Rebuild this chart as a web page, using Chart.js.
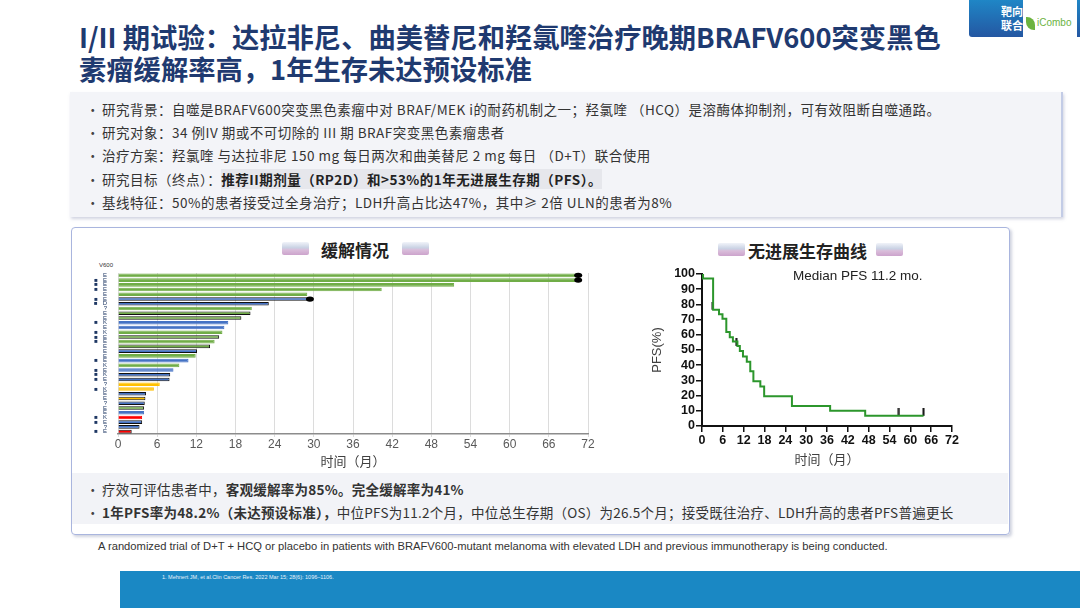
<!DOCTYPE html>
<html lang="zh">
<head>
<meta charset="utf-8">
<title>BRAFV600 黑色素瘤 I/II 期试验</title>
<script src="https://cdn.jsdelivr.net/npm/chart.js@4.4.0/dist/chart.umd.min.js"></script>
<style>
  body { margin: 0; width: 1080px; height: 608px; position: relative; overflow: hidden; background: #fff;
         font-family: "Noto Sans CJK SC", "Noto Sans", sans-serif; color: #333; }
  .abs { position: absolute; }
  .title { left: 79px; top: 20px; font-size: 27.3px; font-weight: bold; color: #1f3a70; line-height: 32px; white-space: nowrap; }
  .brand { left: 969px; top: 0; width: 111px; height: 37px; background: linear-gradient(#1f86c6, #2457a2); border-bottom-left-radius: 3px; }
  .brand span { position: absolute; left: 32px; color: #fff; font-size: 11px; font-weight: bold; line-height: 14px; top: 4px; }
  .logo { left: 1023px; top: 0; width: 54px; height: 37px; background: #fff; }
  .logo b { position: absolute; left: 14px; top: 17px; font: 10px "Liberation Sans", sans-serif; color: #6cb33f; }
  .logo i { position: absolute; left: 3px; top: 17px; width: 9px; height: 13px; background: #6cb33f; border-radius: 0 8px 0 8px; }
  .box { left: 70px; top: 92px; width: 991px; height: 125px; background: #f3f4f8; border-right: 2px solid #c3cce6; box-shadow: 1px 2px 3px rgba(120,130,170,.35); }
  .bul { font-size: 13.5px; line-height: 23.2px; color: #333; letter-spacing: 0.5px; white-space: nowrap; }
  .bul div::before { content: "•"; display: inline-block; width: 16px; color: #444; }
  .hl { background: #e6e7ec; font-weight: bold; color: #222; }
  .panel { left: 71px; top: 227px; width: 937px; height: 306px; border: 1px solid #a9b5de; border-radius: 4px; box-shadow: 2px 2px 3px rgba(100,110,150,.3); }
  .foot { left: 72px; top: 473px; width: 936px; height: 51px; background: #f2f3f7; }
  .head { font-size: 17px; font-weight: bold; color: #222; }
  .deco { width: 27px; height: 13px; border-radius: 2px;
          background: linear-gradient(#eef1f8 0%, #bfc9de 45%, #d3b2d4 60%, #c393c3 100%); opacity: .85; }
  .en { left: 98px; top: 540px; font: 11.2px "Liberation Sans", sans-serif; color: #333; white-space: nowrap; }
  .bar { left: 120px; top: 571px; width: 960px; height: 37px; background: #1a88c4; }
  .ref { left: 162px; top: 574px; font: 5.5px "Liberation Sans", sans-serif; color: #e8f2fa; }
</style>
</head>
<body>
<div class="abs brand"><span>靶向<br>联合</span></div>
<div class="abs logo"><i></i><b>iCombo</b></div>

<div class="abs title">I/II 期试验：达拉非尼、曲美替尼和羟氯喹治疗晚期BRAFV600突变黑色<br>素瘤缓解率高，1年生存未达预设标准</div>

<div class="abs box"></div>
<div class="abs bul" style="left:86px; top:98px;">
  <div>研究背景：自噬是BRAFV600突变黑色素瘤中对 BRAF/MEK i的耐药机制之一；羟氯喹 （HCQ）是溶酶体抑制剂，可有效阻断自噬通路。</div>
  <div>研究对象：34 例IV 期或不可切除的 III 期 BRAF突变黑色素瘤患者</div>
  <div>治疗方案：羟氯喹 与达拉非尼 150 mg 每日两次和曲美替尼 2 mg 每日 （D+T）联合使用</div>
  <div>研究目标（终点）：<span class="hl">推荐II期剂量（RP2D）和&gt;53%的1年无进展生存期（PFS）。</span></div>
  <div>基线特征：50%的患者接受过全身治疗；LDH升高占比达47%，其中≥ 2倍 ULN的患者为8%</div>
</div>

<div class="abs panel"></div>
<div class="abs deco" style="left:282px; top:242px;"></div>
<div class="abs head" style="left:321px; top:237px;">缓解情况</div>
<div class="abs deco" style="left:402px; top:242px;"></div>
<div class="abs deco" style="left:718px; top:243px;"></div>
<div class="abs head" style="left:748px; top:238px;">无进展生存曲线</div>
<div class="abs deco" style="left:876px; top:243px;"></div>

<div class="abs" style="left:99px; top:262px; font:6px 'Liberation Sans', sans-serif; color:#333;">V600</div>
<div class="abs" style="left:80px; top:262px;"><canvas id="swimmer" width="520" height="210"></canvas></div>
<div class="abs" style="left:650px; top:262px;"><canvas id="pfs" width="310" height="210"></canvas></div>
<div class="abs" style="left:793px; top:268px; font:13.5px 'Liberation Sans', sans-serif; color:#222;">Median PFS 11.2 mo.</div>

<div class="abs foot"></div>
<div class="abs bul" style="left:86px; top:478px; letter-spacing:0.25px;">
  <div>疗效可评估患者中，<b>客观缓解率为85%。完全缓解率为41%</b></div>
  <div><b>1年PFS率为48.2%（未达预设标准），</b>中位PFS为11.2个月，中位总生存期（OS）为26.5个月；接受既往治疗、LDH升高的患者PFS普遍更长</div>
</div>

<div class="abs en">A randomized trial of D+T + HCQ or placebo in patients with BRAFV600-mutant melanoma with elevated LDH and previous immunotherapy is being conducted.</div>
<div class="abs bar"></div>
<div class="abs ref">1.  Mehnert JM, et al.Clin Cancer Res. 2022 Mar 15; 28(6): 1096–1106.</div>

<script>
// Swimmer plot: months on treatment per patient, top to bottom
const durations = [70.5, 70.5, 51.5, 40.4, 29.0, 29.4, 23.1, 20.5, 20.3, 18.9, 16.9, 16.3, 16.0, 15.5, 14.8, 14.1, 12.1,
                   11.9, 10.8, 9.4, 8.5, 8.0, 7.9, 6.4, 5.5, 4.3, 4.2, 4.1, 4.0, 4.0, 3.7, 3.7, 3.3, 2.1];
// response group per patient: G green, B blue, Y yellow, R red
const response = ["G","G","G","G","G","B","B","G","G","G","B","B","G","G","G","G","B",
                  "G","B","G","B","B","B","Y","Y","B","Y","B","G","B","R","B","B","R"];
// outlined bars (black border)
const outlined = [0,0,0,0,0,1,1,0,1,1,0,0,0,1,0,1,1, 0,0,0,0,1,1,0,0,1,1,1,1,0,0,1,1,1];
// mutation code and prior-therapy flag shown at the left
const mutation = ["E","E","E","E","E","E","D","?","E","E","K","E","K","E","E","E","E",
                  "E","E","K","E","K","E","?","K","E","E","?","E","E","K","E","?","E"];
const priorTx = [0,1,1,1,0,1,1,0,0,0,1,0,1,1,1,0,0, 0,1,0,1,1,1,0,1,0,0,0,0,0,1,1,0,1];
// patients still on treatment at cutoff
const ongoing = [0, 1, 5];
const monthTicks = [0, 6, 12, 18, 24, 30, 36, 42, 48, 54, 60, 66, 72];

// PFS Kaplan-Meier curve
const kmTime = [0, 0.3, 3.2, 4.9, 5.9, 7.0, 8.0, 8.9, 10.2, 10.9, 11.8, 12.9, 13.9, 14.8, 16.8, 17.9, 25.9, 36.9, 47.0, 63.8];
const kmSurv = [100, 97.1, 76.5, 73.6, 70.6, 61.8, 58.4, 55.6, 52.7, 49.4, 45.7, 42.3, 36.0, 29.4, 26.0, 19.6, 13.1, 10.0, 6.7, 6.7];
const censorTime = [3.1, 9.9, 56.7, 63.8];
const censorSurv = [76.5, 52.7, 6.7, 6.7];

const palette = { G: "#70ad47", B: "#4472c4", Y: "#ffc000", R: "#ff0000" };

const ongoingMarks = {
  id: "ongoingMarks",
  afterDatasetsDraw(chart) {
    const meta = chart.getDatasetMeta(0);
    const ctx = chart.ctx;
    ctx.save();
    ctx.fillStyle = "#000";
    ongoing.forEach((i) => {
      const bar = meta.data[i];
      ctx.beginPath();
      ctx.ellipse(bar.x, bar.y, 4, 2.6, 0, 0, Math.PI * 2);
      ctx.fill();
    });
    ctx.restore();
  },
};

new Chart(document.getElementById("swimmer"), {
  type: "bar",
  data: {
    labels: mutation.map((m, i) => (priorTx[i] ? "■   " : "") + m),
    datasets: [{
      data: durations,
      backgroundColor: response.map((r) => palette[r]),
      borderColor: response.map((r, i) => (outlined[i] ? "#111" : palette[r])),
      borderWidth: 1,
      barPercentage: 0.8,
      categoryPercentage: 0.95,
    }],
  },
  options: {
    indexAxis: "y",
    responsive: false,
    animation: false,
    layout: { padding: { top: 11, right: 12, left: 0, bottom: 3 } },
    plugins: { legend: { display: false }, tooltip: { enabled: false } },
    scales: {
      x: {
        min: 0, max: 72,
        afterBuildTicks: (scale) => { scale.ticks = monthTicks.map((v) => ({ value: v })); },
        ticks: { color: "#595959", font: { family: "Liberation Sans", size: 12 }, padding: 0 },
        grid: { color: "#dcdcdc", tickLength: 3 },
        border: { color: "#8c8c8c", width: 1.5 },
        title: { display: true, text: "时间（月）", color: "#404040", font: { family: "Noto Sans CJK SC", size: 13 }, padding: 0 },
        afterFit: (scale) => { scale.height = 35; },
      },
      y: {
        ticks: { color: "#1f3864", font: { family: "Liberation Sans", size: 6 }, autoSkip: false, padding: 3 },
        grid: { display: false },
        border: { display: false },
        afterFit: (scale) => { scale.width = 38; },
      },
    },
  },
  plugins: [ongoingMarks],
});

// censor tick drawn only above the curve
const tick = document.createElement("canvas");
tick.width = 3; tick.height = 16;
const tctx = tick.getContext("2d");
tctx.fillStyle = "#111";
tctx.fillRect(0.5, 0, 2, 8);

const axisStyle = {
  ticks: { color: "#111", font: { family: "Liberation Sans", size: 12.5, weight: "bold" }, padding: 1, autoSkip: false },
  grid: { drawOnChartArea: false, color: "#111", tickLength: 6, lineWidth: 1.5 },
  border: { color: "#111", width: 2 },
};

new Chart(document.getElementById("pfs"), {
  type: "line",
  data: {
    datasets: [
      {
        data: kmTime.map((t, i) => ({ x: t, y: kmSurv[i] })),
        borderColor: "#2c962c",
        borderWidth: 2,
        stepped: true,
        pointRadius: 0,
        fill: false,
      },
      {
        data: censorTime.map((t, i) => ({ x: t, y: censorSurv[i] })),
        showLine: false,
        pointStyle: tick,
        pointRadius: 4,
      },
    ],
  },
  options: {
    responsive: false,
    animation: false,
    layout: { padding: { top: 12, right: 8, bottom: 3 } },
    plugins: { legend: { display: false }, tooltip: { enabled: false } },
    scales: {
      x: {
        type: "linear", min: 0, max: 72,
        ...axisStyle,
        ticks: { ...axisStyle.ticks, stepSize: 6 },
        title: { display: true, text: "时间（月）", color: "#404040", font: { family: "Noto Sans CJK SC", size: 13 }, padding: 2 },
        afterFit: (scale) => { scale.height = 43; },
      },
      y: {
        min: 0, max: 100,
        ...axisStyle,
        ticks: { ...axisStyle.ticks, stepSize: 10 },
        title: { display: true, text: "PFS(%)", color: "#404040", font: { family: "Liberation Sans", size: 13 }, padding: 0 },
        afterFit: (scale) => { scale.width = 52; },
      },
    },
  },
});
</script>
</body>
</html>
